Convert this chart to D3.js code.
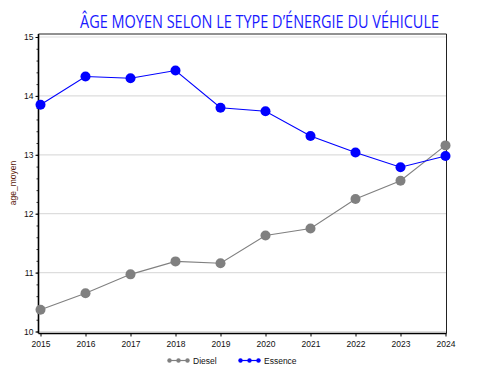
<!DOCTYPE html>
<html>
<head>
<meta charset="utf-8">
<script src="https://cdn.jsdelivr.net/npm/d3@7"></script>
<style>
  body { margin: 0; background: #fff; }
  svg { display: block; }
</style>
</head>
<body>
<div id="chart"></div>
<script>
// données
const annees = [2015, 2016, 2017, 2018, 2019, 2020, 2021, 2022, 2023, 2024];
const diesel = [10.37, 10.65, 10.97, 11.19, 11.16, 11.63, 11.75, 12.25, 12.56, 13.16];
const essence = [13.85, 14.33, 14.30, 14.43, 13.80, 13.74, 13.32, 13.04, 12.79, 12.98];
const yTicks = [10, 11, 12, 13, 14, 15];

const width = 494, height = 373;
const svg = d3.select('#chart').append('svg')
    .attr('width', width)
    .attr('height', height);

// échelles
const x = d3.scaleLinear().domain([2015, 2024]).range([40.5, 445.5]);
const y = d3.scaleLinear().domain([10, 15]).range([331.5, 37]);

const pLeft = 38.5, pRight = 446.5, pTop = 34, pBottom = 333.5;

// titre (largeur ajustée à celle de l'original)
const titre = svg.append('text')
    .attr('x', 80)
    .attr('y', 27.5)
    .attr('font-family', '"Liberation Sans Narrow", "Open Sans", sans-serif')
    .attr('font-size', 17.5)
    .attr('fill', '#1a1aff')
    .text('ÂGE MOYEN SELON LE TYPE D’ÉNERGIE DU VÉHICULE');
const w = titre.node().getComputedTextLength();
if (Math.abs(w - 359) > 4) {
    titre.attr('textLength', 359).attr('lengthAdjust', 'spacingAndGlyphs');
}

// grille
svg.append('g')
    .selectAll('line')
    .data(yTicks)
    .enter().append('line')
    .attr('x1', pLeft).attr('x2', pRight)
    .attr('y1', d => y(d)).attr('y2', d => y(d))
    .attr('stroke', '#dddddd')
    .attr('stroke-width', 1.2);

// cadre haut et droite
svg.append('path')
    .attr('d', `M${pLeft},${pTop}H${pRight}V${pBottom}`)
    .attr('fill', 'none')
    .attr('stroke', '#222')
    .attr('stroke-width', 1);

// axe Y avec graduations mineures
const yMinor = d3.range(10, 15.001, 0.2);
const gy = svg.append('g').attr('transform', `translate(${pLeft},0)`);
gy.call(d3.axisLeft(y).tickValues(yMinor).tickSize(2).tickFormat(''));
gy.call(g => g.select('.domain').remove());
const gyMaj = svg.append('g').attr('transform', `translate(${pLeft},0)`)
    .call(d3.axisLeft(y).tickValues(yTicks).tickSize(3).tickPadding(2).tickFormat(d3.format('d')));
gyMaj.select('.domain').attr('d', `M0,${pTop}V${pBottom}`).attr('stroke-width', 1.6);
gyMaj.selectAll('text').attr('font-family', 'Arial, "Liberation Sans", sans-serif').attr('font-size', 8.5).attr('fill', '#111');
gy.selectAll('line').attr('stroke', '#333');

// axe X
const gx = svg.append('g').attr('transform', `translate(0,${pBottom})`)
    .call(d3.axisBottom(x).tickValues(annees).tickSize(3).tickPadding(4).tickFormat(d3.format('d')));
gx.select('.domain').attr('d', `M${pLeft},0H${pRight}`).attr('stroke-width', 1.4);
gx.selectAll('text').attr('font-family', 'Arial, "Liberation Sans", sans-serif').attr('font-size', 8.5).attr('fill', '#111');

// titre axe Y
svg.append('text')
    .attr('transform', 'translate(16,183) rotate(-90)')
    .attr('text-anchor', 'middle')
    .attr('font-family', 'Arial, "Liberation Sans", sans-serif')
    .attr('font-size', 8.5)
    .attr('fill', '#5a1a0a')
    .text('age_moyen');

// séries
const series = [
    { nom: 'Diesel', valeurs: diesel, couleur: '#808080' },
    { nom: 'Essence', valeurs: essence, couleur: '#0000ff' }
];

const line = d3.line()
    .x((d, i) => x(annees[i]))
    .y(d => y(d));

series.forEach(s => {
    svg.append('path')
        .datum(s.valeurs)
        .attr('d', line)
        .attr('fill', 'none')
        .attr('stroke', s.couleur)
        .attr('stroke-width', 1.1);
    svg.append('g')
        .selectAll('circle')
        .data(s.valeurs)
        .enter().append('circle')
        .attr('cx', (d, i) => x(annees[i]))
        .attr('cy', d => y(d))
        .attr('r', 5)
        .attr('fill', s.couleur);
});

// légende
const legendX = [168, 239];
series.forEach((s, k) => {
    const g = svg.append('g').attr('transform', `translate(${legendX[k]},360.5)`);
    g.append('line')
        .attr('x1', 0).attr('x2', 21)
        .attr('stroke', s.couleur).attr('stroke-width', 1.2);
    g.selectAll('circle')
        .data([1.5, 10.5, 19.5])
        .enter().append('circle')
        .attr('cx', d => d).attr('r', 2.2)
        .attr('fill', s.couleur);
    g.append('text')
        .attr('x', 25).attr('y', 3)
        .attr('font-family', 'Arial, "Liberation Sans", sans-serif')
        .attr('font-size', 8.5)
        .attr('fill', '#111')
        .text(s.nom);
});
</script>
</body>
</html>
